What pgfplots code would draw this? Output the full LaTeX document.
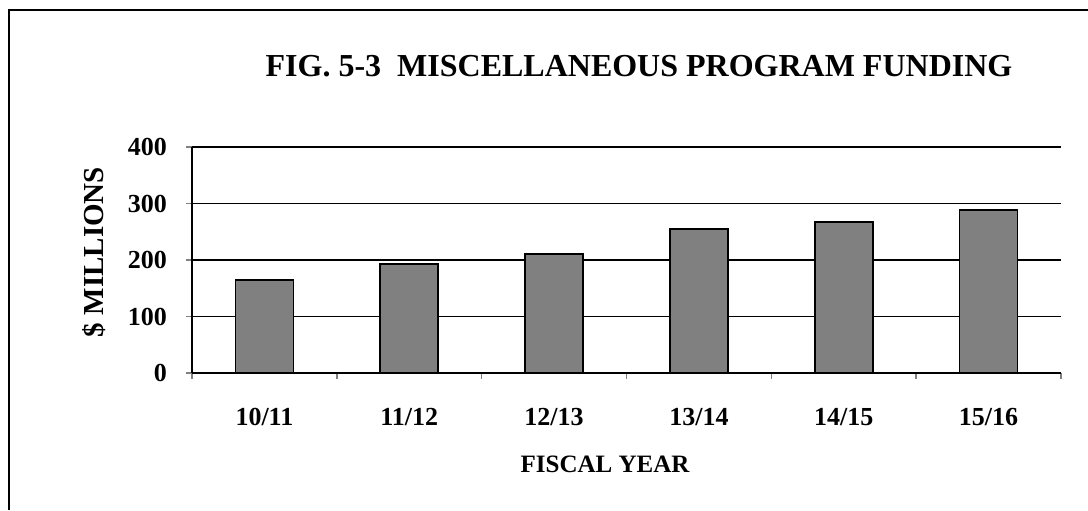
\documentclass[border=0pt]{standalone}
\usepackage{fontspec}
\setmainfont{Liberation Serif}
\usepackage{pgfplots}
\pgfplotsset{compat=1.18}
\definecolor{barfill}{RGB}{128,128,128}

\begin{document}
\begin{tikzpicture}
% page 1088x510 px at 0.5pt per px
\path[use as bounding box] (0,0) rectangle (544pt,255pt);
\draw[line width=0.8pt] (4.5pt,0) -- (4.5pt,250pt) -- (544pt,250pt);

\node[font=\fontsize{16}{19}\selectfont\bfseries] at (319.5pt,222pt)
  {FIG. 5-3\ \ MISCELLANEOUS PROGRAM FUNDING};
\node[font=\fontsize{14.5}{17}\selectfont\bfseries, rotate=90] at (47pt,129pt)
  {\$ MILLIONS};
\node[font=\fontsize{12.5}{15}\selectfont\bfseries] at (302.5pt,23pt)
  {FISCAL YEAR};

\begin{axis}[
  at={(96pt,68.5pt)}, anchor=south west,
  scale only axis, width=434.5pt, height=113pt,
  xmin=-0.5, xmax=5.5, ymin=0, ymax=400,
  axis x line=bottom, axis y line=left,
  axis line style={line width=1.2pt, -},
  xtick={0,...,5},
  xticklabels={10/11,11/12,12/13,13/14,14/15,15/16},
  major x tick style={draw=none},
  minor xtick={-0.5,0.5,...,5.5},
  minor x tick style={line width=0.7pt},
  minor tick length=3pt,
  ytick={0,100,...,400},
  major tick length=3pt,
  y tick style={line width=0.7pt},
  tick align=outside,
  ymajorgrids, grid style={line width=0.6pt, black},
  /pgf/number format/assume math mode=true,
  ticklabel style={font=\fontsize{13}{15}\selectfont\bfseries},
  xticklabel style={anchor=base, yshift=-23pt},
  yticklabel style={xshift=-6pt},
]
\addplot[ybar, bar width=29pt, fill=barfill, draw=black, line width=0.9pt]
  coordinates {(0,165)(1,193)(2,210)(3,255)(4,267)(5,288)};
\end{axis}
\end{tikzpicture}
\end{document}
